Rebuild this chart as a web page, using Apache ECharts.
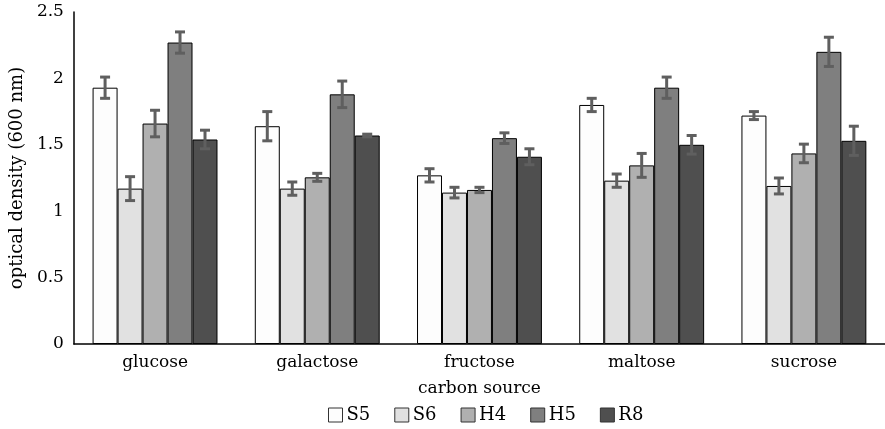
<!DOCTYPE html>
<html>
<head>
<meta charset="utf-8">
<script src="https://cdn.jsdelivr.net/npm/echarts@6/dist/echarts.min.js"></script>
<style>
  html, body { margin: 0; padding: 0; background: #fff; }
  #chart { width: 885px; height: 429px; }
</style>
</head>
<body>
<div id="chart"></div>
<script>
var categories = ['glucose', 'galactose', 'fructose', 'maltose', 'sucrose'];
var seriesNames = ['S5', 'S6', 'H4', 'H5', 'R8'];
var colors = ['#fdfdfd', '#e1e1e1', '#b0b0b0', '#7f7f7f', '#4f4f4f'];

// mean values per strain
var S5 = [1.93, 1.64, 1.27, 1.80, 1.72];
var S6 = [1.17, 1.17, 1.14, 1.23, 1.19];
var H4 = [1.66, 1.255, 1.16, 1.345, 1.435];
var H5 = [2.27, 1.88, 1.55, 1.93, 2.20];
var R8 = [1.54, 1.57, 1.41, 1.50, 1.53];

// error (± half-range) per strain
var S5err = [0.08, 0.11, 0.05, 0.05, 0.03];
var S6err = [0.09, 0.05, 0.04, 0.05, 0.06];
var H4err = [0.10, 0.03, 0.02, 0.09, 0.07];
var H5err = [0.08, 0.10, 0.04, 0.08, 0.11];
var R8err = [0.07, 0.01, 0.06, 0.07, 0.11];

var values = [S5, S6, H4, H5, R8];
var errors = [S5err, S6err, H4err, H5err, R8err];

var FONT = 'DejaVu Serif';
var CAT_GAP = 0.23;

var chart = echarts.init(document.getElementById('chart'));

var series = [];
seriesNames.forEach(function (name, i) {
    series.push({
        name: name,
        type: 'bar',
        data: values[i],
        barGap: '0%',
        barCategoryGap: (CAT_GAP * 100) + '%',
        itemStyle: { color: colors[i], borderColor: '#000', borderWidth: 1 },
        z: 2
    });
});

seriesNames.forEach(function (name, i) {
    series.push({
        type: 'custom',
        name: name + ' err',
        data: values[i].map(function (v, j) { return [j, v - errors[i][j], v + errors[i][j]]; }),
        z: 5,
        silent: true,
        renderItem: function (params, api) {
            var c = api.value(0);
            var lo = api.coord([c, api.value(1)]);
            var hi = api.coord([c, api.value(2)]);
            var band = api.size([1, 0])[0];
            var barW = band * (1 - CAT_GAP) / seriesNames.length;
            var x = lo[0] + (i - (seriesNames.length - 1) / 2) * barW;
            var cap = 5;
            var st = { stroke: '#5f5f5f', lineWidth: 3 };
            return {
                type: 'group',
                children: [
                    { type: 'line', shape: { x1: x, y1: lo[1], x2: x, y2: hi[1] }, style: st },
                    { type: 'line', shape: { x1: x - cap, y1: lo[1], x2: x + cap, y2: lo[1] }, style: st },
                    { type: 'line', shape: { x1: x - cap, y1: hi[1], x2: x + cap, y2: hi[1] }, style: st }
                ]
            };
        }
    });
});

var option = {
    animation: false,
    backgroundColor: '#fff',
    textStyle: { fontFamily: FONT, color: '#000' },
    grid: { left: 72, right: 0, top: 12, bottom: 85 },
    legend: {
        data: seriesNames,
        top: 406,
        left: 328,
        padding: 0,
        icon: 'rect',
        itemWidth: 14,
        itemHeight: 14,
        itemGap: 24,
        itemStyle: { borderColor: '#333', borderWidth: 1 },
        textStyle: { fontFamily: FONT, fontSize: 18, color: '#000', padding: [0, 0, 0, -1] }
    },
    xAxis: {
        type: 'category',
        data: categories,
        name: 'carbon source',
        nameLocation: 'middle',
        nameGap: 36,
        nameTextStyle: { fontFamily: FONT, fontSize: 17, color: '#000' },
        axisLine: { lineStyle: { color: '#000', width: 1.5 } },
        axisTick: { show: false },
        axisLabel: { fontFamily: FONT, fontSize: 17, color: '#000', margin: 10 }
    },
    yAxis: {
        type: 'value',
        min: 0,
        max: 2.5,
        interval: 0.5,
        name: 'optical density (600 nm)',
        nameLocation: 'middle',
        nameGap: 44,
        nameTextStyle: { fontFamily: FONT, fontSize: 18, color: '#000' },
        axisLine: { show: true, lineStyle: { color: '#000', width: 1.5 } },
        axisTick: { show: false },
        splitLine: { show: false },
        axisLabel: { fontFamily: FONT, fontSize: 17, color: '#000', margin: 10 }
    },
    series: series
};

chart.setOption(option);
</script>
</body>
</html>
